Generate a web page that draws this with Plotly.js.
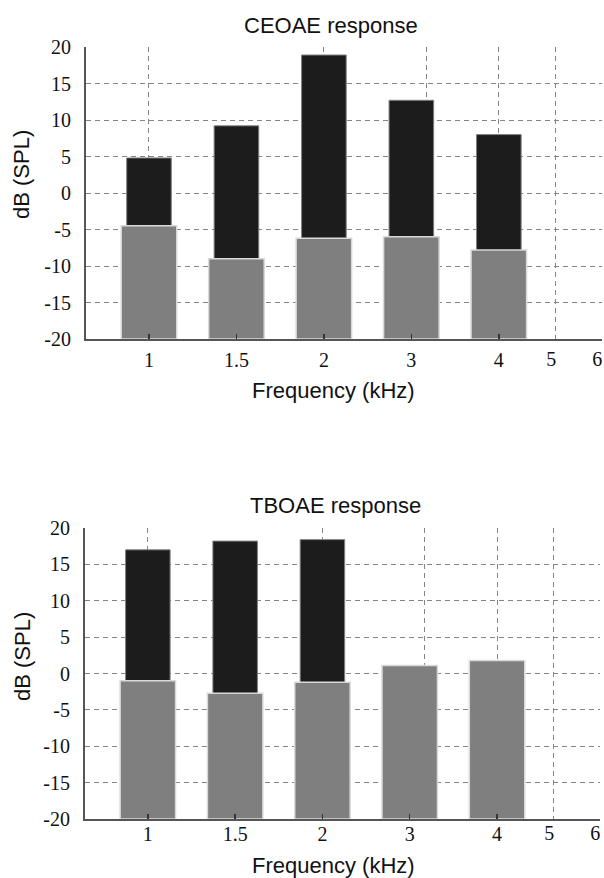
<!DOCTYPE html>
<html><head><meta charset="utf-8">
<script src="https://cdn.plot.ly/plotly-3.0.1.min.js"></script>
<style>html,body{margin:0;padding:0;background:#fff;}#chart{width:604px;height:878px;}</style>
</head><body><div id="chart"></div>
<script>
// ---- data ----
const freqLabels = ['1', '1.5', '2', '3', '4'];
const ceoaeResponse = [4.8, 9.2, 18.9, 12.7, 8.0];
const ceoaeNoise = [-4.5, -9.0, -6.2, -6.0, -7.8];
const tboaeResponse = [17.0, 18.2, 18.4, null, null];
const tboaeNoise = [-1.0, -2.7, -1.2, 1.1, 1.8];
const gridFreqs = [1, 2, 3, 4, 5, 6];
const gridLabels = ['', '', '', '', '5', '6'];
const yTicks = [-20, -15, -10, -5, 0, 5, 10, 15, 20];
const yTickLabels = ['-20', '-15', '-10', '-5', '0', '5', '10', '15', '20'];
const BASE = -20;

// ---- styling ----
const W = 604, H = 878;
const serif = {family: 'Liberation Serif, Times New Roman, serif', size: 20, color: '#111'};
const sans = {family: 'Liberation Sans, Arial, sans-serif', size: 22, color: '#111'};
const GRID = '#858585';
const DASH = '5px,4px';
const logRange = [Math.log10(Math.pow(2, -0.36)), Math.log10(6.02)];
const catRange = [-0.72, 2 * Math.log2(6.02)];

function px(x) { return x / W; }
function py(y) { return 1 - y / H; }

function lengths(arr) { return arr.map(v => v == null ? null : v - BASE); }

function barPair(resp, noise, xa, ya) {
  return [
    {type: 'bar', x: freqLabels, y: lengths(resp), base: BASE, xaxis: xa, yaxis: ya,
     width: 0.51, marker: {color: '#1c1c1c', line: {color: '#808080', width: 1}},
     showlegend: false, hoverinfo: 'skip'},
    {type: 'bar', x: freqLabels, y: lengths(noise), base: BASE, xaxis: xa, yaxis: ya,
     width: 0.635, marker: {color: '#7f7f7f', line: {color: '#d9d9d9', width: 1.5}},
     showlegend: false, hoverinfo: 'skip'}
  ];
}

const data = [
  ...barPair(ceoaeResponse, ceoaeNoise, 'x', 'y'),
  ...barPair(tboaeResponse, tboaeNoise, 'x2', 'y2'),
  {type: 'scatter', x: [], y: [], xaxis: 'x3', yaxis: 'y', showlegend: false, hoverinfo: 'skip'},
  {type: 'scatter', x: [], y: [], xaxis: 'x4', yaxis: 'y2', showlegend: false, hoverinfo: 'skip'}
];

function catAxis(domain, anchor, standoff) {
  return {type: 'category', domain: domain, anchor: anchor, range: catRange,
    categoryorder: 'array', categoryarray: freqLabels,
    showgrid: false, zeroline: false, showline: true, linecolor: '#555', linewidth: 2,
    ticks: 'inside', ticklen: 5, tickwidth: 1.5, tickcolor: '#333',
    tickfont: serif, ticklabelstandoff: standoff, fixedrange: true};
}
function logAxis(over, anchor, standoff) {
  return {type: 'log', overlaying: over, anchor: anchor, side: 'bottom', range: logRange,
    tickmode: 'array', tickvals: gridFreqs, ticktext: gridLabels,
    showgrid: true, gridcolor: GRID, gridwidth: 1, griddash: DASH,
    showline: false, zeroline: false, ticks: '', tickfont: serif,
    ticklabelstandoff: standoff, ticklabelshift: -4, fixedrange: true};
}
function yAxis(domain, anchor) {
  return {domain: domain, anchor: anchor, range: [-20, 20], tickmode: 'array',
    tickvals: yTicks, ticktext: yTickLabels,
    showgrid: true, gridcolor: GRID, gridwidth: 1, griddash: DASH,
    zeroline: false, showline: true, linecolor: '#555', linewidth: 2,
    ticks: '', tickfont: serif, ticklabelstandoff: 9, fixedrange: true};
}

const topX = [px(86), px(602)], topY = [py(339), py(47)];
const botX = [px(85), px(600)], botY = [py(819), py(528)];

const layout = {
  width: W, height: H, margin: {l: 0, r: 0, t: 0, b: 0},
  paper_bgcolor: '#fff', plot_bgcolor: '#fff',
  barmode: 'overlay', showlegend: false,
  xaxis: catAxis(topX, 'y', 2),
  yaxis: yAxis(topY, 'x'),
  xaxis3: logAxis('x', 'y', 6),
  xaxis2: catAxis(botX, 'y2', -4),
  yaxis2: yAxis(botY, 'x2'),
  xaxis4: logAxis('x2', 'y2', 0),
  annotations: [
    {text: 'CEOAE response', x: px(331), y: py(26), xref: 'paper', yref: 'paper', showarrow: false, font: sans, xanchor: 'center', yanchor: 'middle'},
    {text: 'Frequency (kHz)', x: px(333), y: py(390), xref: 'paper', yref: 'paper', showarrow: false, font: sans, xanchor: 'center', yanchor: 'middle'},
    {text: 'dB (SPL)', x: px(22), y: py(175), xref: 'paper', yref: 'paper', showarrow: false, font: sans, textangle: -90, xanchor: 'center', yanchor: 'middle'},
    {text: 'TBOAE response', x: px(335), y: py(505), xref: 'paper', yref: 'paper', showarrow: false, font: sans, xanchor: 'center', yanchor: 'middle'},
    {text: 'Frequency (kHz)', x: px(333), y: py(865), xref: 'paper', yref: 'paper', showarrow: false, font: sans, xanchor: 'center', yanchor: 'middle'},
    {text: 'dB (SPL)', x: px(22), y: py(657), xref: 'paper', yref: 'paper', showarrow: false, font: sans, textangle: -90, xanchor: 'center', yanchor: 'middle'}
  ]
};

Plotly.newPlot('chart', data, layout, {staticPlot: true, displayModeBar: false});
</script>
</body></html>
